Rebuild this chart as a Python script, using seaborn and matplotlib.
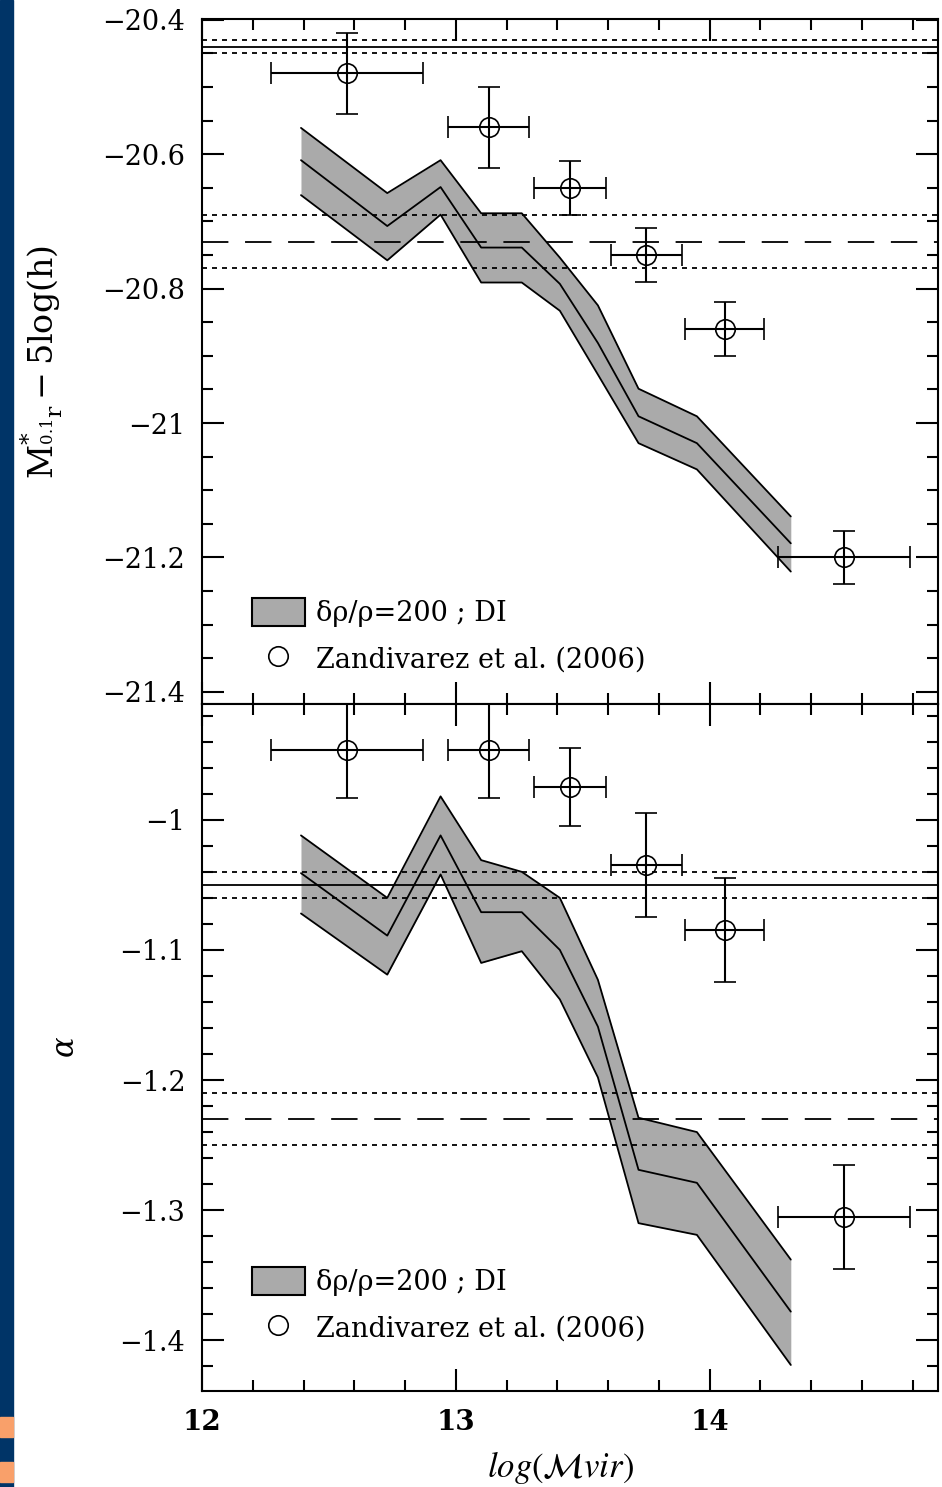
import matplotlib
matplotlib.use("Agg")
import matplotlib.pyplot as plt
import numpy as np
import pandas as pd
import seaborn as sns
from matplotlib.lines import Line2D
from matplotlib.patches import Patch, Rectangle
from matplotlib.ticker import FuncFormatter, MultipleLocator

# model band (delta rho / rho = 200 ; DI), shared mass nodes
mass_nodes = [12.39, 12.73, 12.94, 13.10, 13.26, 13.41, 13.56, 13.72, 13.95, 14.32]
mstar_mid = [-20.609, -20.707, -20.649, -20.739, -20.739, -20.793, -20.881, -20.990, -21.030, -21.179]
mstar_hi = [-20.561, -20.658, -20.609, -20.688, -20.688, -20.754, -20.825, -20.949, -20.990, -21.139]
mstar_lo = [-20.661, -20.758, -20.690, -20.791, -20.791, -20.833, -20.928, -21.030, -21.069, -21.221]
alpha_mid = [-1.041, -1.089, -1.012, -1.071, -1.071, -1.100, -1.159, -1.269, -1.279, -1.378]
alpha_hi = [-1.012, -1.060, -0.982, -1.031, -1.040, -1.060, -1.123, -1.229, -1.240, -1.338]
alpha_lo = [-1.072, -1.119, -1.042, -1.110, -1.101, -1.138, -1.198, -1.310, -1.319, -1.419]

# Zandivarez et al. (2006)
z_mass = [12.57, 13.13, 13.45, 13.75, 14.06, 14.53]
z_mass_err = [0.30, 0.16, 0.14, 0.14, 0.155, 0.26]
z_mstar = [-20.48, -20.56, -20.65, -20.75, -20.86, -21.20]
z_mstar_err = [0.06, 0.06, 0.04, 0.04, 0.04, 0.04]
z_alpha = [-0.946, -0.946, -0.975, -1.035, -1.085, -1.305]
z_alpha_err = [0.037, 0.037, 0.03, 0.04, 0.04, 0.04]

# horizontal reference values: (centre, +-)
mstar_solid = (-20.44, 0.01)
mstar_dashed = (-20.73, 0.04)
alpha_solid = (-1.05, 0.01)
alpha_dashed = (-1.23, 0.02)

legend_labels = [r"δρ/ρ=200 ; DI", "Zandivarez et al. (2006)"]

BAND = "#aaaaaa"

sns.set_style("ticks")
plt.rcParams["font.family"] = ["DejaVu Serif"]
plt.rcParams["lines.scale_dashes"] = False
plt.rcParams["axes.linewidth"] = 1.5
for key in ("axes.edgecolor", "text.color", "xtick.color", "ytick.color", "axes.labelcolor"):
    plt.rcParams[key] = "black"

fig = plt.figure(figsize=(9.42, 14.87), dpi=100)
ax_top = fig.add_axes([202 / 942, 1 - 704 / 1487, 736 / 942, 685 / 1487])
ax_bot = fig.add_axes([202 / 942, 1 - 1391 / 1487, 736 / 942, 687 / 1487], sharex=ax_top)

# left decoration strip
fig.patches.append(Rectangle((0, 0), 13 / 942, 1, transform=fig.transFigure, color="#003467", zorder=0))
for y0 in (1417, 1462):
    fig.patches.append(Rectangle((0, 1 - (y0 + 20) / 1487), 13 / 942, 20 / 1487,
                                 transform=fig.transFigure, color="#f9a06a", zorder=1))

tick_fmt = FuncFormatter(lambda v, _: f"{v:g}".replace("-", "\u2212"))


def draw_panel(ax, mid, hi, lo, obs, obs_err, solid, dashed):
    ax.fill_between(mass_nodes, lo, hi, color=BAND, lw=0, zorder=1)
    df = pd.DataFrame({"m": mass_nodes, "mid": mid, "hi": hi, "lo": lo})
    for col in ("mid", "hi", "lo"):
        sns.lineplot(data=df, x="m", y=col, ax=ax, color="black", lw=1.3, zorder=2, sort=False)
    c, d = solid
    ax.axhline(c, color="black", lw=1.3, zorder=3)
    for v in (c - d, c + d):
        ax.axhline(v, color="black", lw=1.3, dashes=(3.6, 3.6), zorder=3)
    c, d = dashed
    ax.axhline(c, color="black", lw=1.3, dashes=(19, 12), zorder=3)
    for v in (c - d, c + d):
        ax.axhline(v, color="black", lw=1.3, dashes=(3.6, 3.6), zorder=3)
    ax.errorbar(z_mass, obs, xerr=z_mass_err, yerr=obs_err, fmt="o", ms=14,
                mfc="none", mec="black", mew=1.2, ecolor="black", elinewidth=1.5,
                capsize=8, capthick=1.5, zorder=4)
    ax.set_xlabel("")
    ax.set_ylabel("")
    ax.tick_params(which="both", direction="in", top=True, right=True,
                   labelsize=19.5, pad=12, width=1.5, color="black")
    ax.tick_params(which="major", length=16)
    ax.tick_params(which="minor", length=8)
    ax.xaxis.set_major_locator(MultipleLocator(1))
    ax.xaxis.set_minor_locator(MultipleLocator(0.2))
    ax.yaxis.set_major_formatter(tick_fmt)
    handles = [Patch(facecolor=BAND, edgecolor="black", lw=1.5),
               Line2D([], [], ls="none", marker="o", ms=14, mfc="none", mec="black", mew=1.2)]
    return handles


h = draw_panel(ax_top, mstar_mid, mstar_hi, mstar_lo, z_mstar, z_mstar_err, mstar_solid, mstar_dashed)
ax_top.set_xlim(12, 14.9)
ax_top.set_ylim(-21.418, -20.399)
ax_top.yaxis.set_major_locator(MultipleLocator(0.2))
ax_top.yaxis.set_minor_locator(MultipleLocator(0.05))
ax_top.tick_params(axis="x", labelbottom=False)
ax_top.legend(h, legend_labels, loc="lower left",
              bbox_to_anchor=(0.068, 0.045), frameon=False, fontsize=19.5,
              handlelength=1.95, handleheight=1.2, handletextpad=0.42,
              labelspacing=0.62, borderpad=0, borderaxespad=0)

h = draw_panel(ax_bot, alpha_mid, alpha_hi, alpha_lo, z_alpha, z_alpha_err, alpha_solid, alpha_dashed)
ax_bot.set_ylim(-1.439, -0.911)
ax_bot.yaxis.set_major_locator(MultipleLocator(0.1))
ax_bot.yaxis.set_minor_locator(MultipleLocator(0.02))
ax_bot.xaxis.set_major_formatter(tick_fmt)
for lab in ax_bot.get_xticklabels():
    lab.set_fontweight("bold")
ax_bot.tick_params(axis="x", pad=13, labelsize=20)
ax_bot.legend(h, legend_labels, loc="lower left",
              bbox_to_anchor=(0.068, 0.071), frameon=False, fontsize=19.5,
              handlelength=1.95, handleheight=1.2, handletextpad=0.42,
              labelspacing=0.62, borderpad=0, borderaxespad=0)

fig.text(42 / 942, 1 - 362 / 1487, r"$\mathrm{M}^{*}_{{}^{0.1}\mathrm{r}}-5\mathrm{log(h)}$",
         rotation=90, ha="center", va="center", fontsize=24, math_fontfamily="dejavuserif")
fig.text(66 / 942, 1 - 1047 / 1487, r"$\alpha$", rotation=90, ha="center", va="center",
         fontsize=22, math_fontfamily="dejavuserif")
fig.text(560 / 942, 1 - 1467 / 1487, r"$\mathit{log}(\mathcal{M}\mathit{vir})$",
         ha="center", va="center", fontsize=25, math_fontfamily="stix")

fig.savefig("out.png", dpi=100)
